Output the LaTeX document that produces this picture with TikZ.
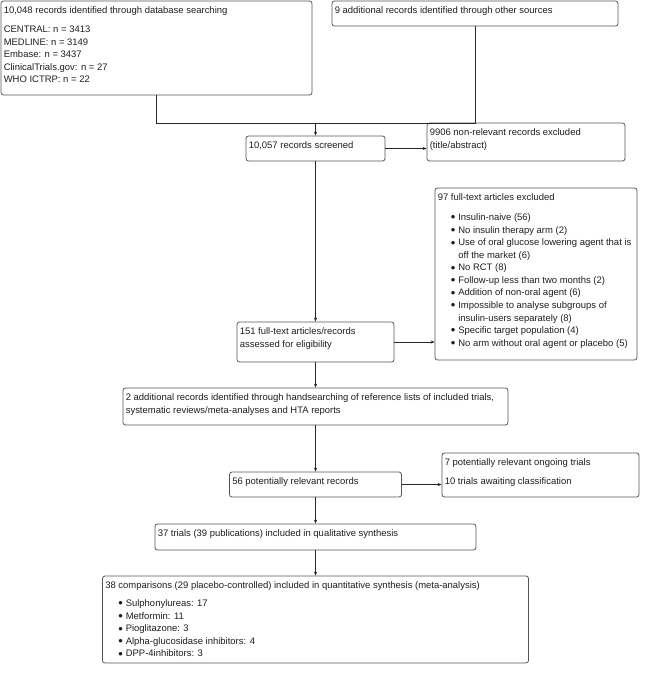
\documentclass[tikz,border=0pt]{standalone}
\usepackage{fontspec}
\setmainfont{Liberation Sans}
\usetikzlibrary{arrows.meta, calc}
\definecolor{boxgrey}{RGB}{85,85,85}
\definecolor{txtdark}{RGB}{30,30,30}
\tikzset{
  recbox/.style={rectangle, draw=boxgrey, rounded corners=2.5bp,
    line width=0.8bp, inner sep=0pt},
  rectext/.style={anchor=north west, inner sep=0pt, align=left,
    text=txtdark, font=\fontsize{9.5}{12.6}\selectfont},
  arrow/.style={-{Stealth[length=4bp,width=3.2bp]}, line width=0.8bp, color=black!85},
  line/.style={line width=0.8bp, color=black!85}
}
\newcommand{\bitem}{\hspace*{13bp}\makebox[7.5bp][l]{\fontsize{13}{12.6}\selectfont\raisebox{-1.3bp}{\textbullet}}}
\newcommand{\bcont}{\hspace*{20.5bp}}
\begin{document}
\begin{tikzpicture}[x=1bp, y=-1bp]
  \useasboundingbox (0,0) rectangle (646,673);

  % Identification
  \node[recbox, minimum width=311bp, minimum height=94bp] (db) at (156.5,48) {};
  \node[rectext] (dbtxt) at ($(db.north west)+(3,6)$)
    {10,048 records identified through database searching\\[6.4bp]
     CENTRAL: n = 3413\\ MEDLINE: n = 3149\\ Embase: n = 3437\\
     ClinicalTrials.gov: n = 27\\ WHO ICTRP: n = 22};

  \node[recbox, minimum width=286bp, minimum height=25bp] (other) at (475,13.5) {};
  \node[rectext] (othertxt) at ($(other.north west)+(3,6)$)
    {9 additional records identified through other sources};

  % Screening
  \node[recbox, minimum width=139bp, minimum height=25bp] (screened) at (315.5,148.5) {};
  \node[rectext] (screenedtxt) at ($(screened.north west)+(3,6)$) {10,057 records screened};

  \node[recbox, minimum width=198bp, minimum height=38bp] (excl) at (526,142) {};
  \node[rectext] (excltxt) at ($(excl.north west)+(3,6)$)
    {9906 non-relevant records excluded\\ (title/abstract)};

  % Eligibility
  \node[recbox, minimum width=157bp, minimum height=40bp] (elig) at (315.5,342) {};
  \node[rectext] (eligtxt) at ($(elig.north west)+(3,6)$)
    {151 full-text articles/records\\ assessed for eligibility};

  \node[recbox, minimum width=202bp, minimum height=172bp] (fulltxt) at (536,274) {};
  \node[rectext] (fulltxttxt) at ($(fulltxt.north west)+(3,6)$)
    {97 full-text articles excluded\\[7.4bp]
     \bitem Insulin-naive (56)\\
     \bitem No insulin therapy arm (2)\\
     \bitem Use of oral glucose lowering agent that is\\
     \bcont off the market (6)\\
     \bitem No RCT (8)\\
     \bitem Follow-up less than two months (2)\\
     \bitem Addition of non-oral agent (6)\\
     \bitem Impossible to analyse subgroups of\\
     \bcont insulin-users separately (8)\\
     \bitem Specific target population (4)\\
     \bitem No arm without oral agent or placebo (5)};

  \node[recbox, minimum width=385bp, minimum height=37bp] (hand) at (315.5,406.5) {};
  \node[rectext] (handtxt) at ($(hand.north west)+(3,6)$)
    {2 additional records identified through handsearching of reference lists of included trials,\\
     systematic reviews/meta-analyses and HTA reports};

  \node[recbox, minimum width=172bp, minimum height=25bp] (relev) at (315.5,484.5) {};
  \node[rectext] (relevtxt) at ($(relev.north west)+(3,6)$) {56 potentially relevant records};

  \node[recbox, minimum width=197bp, minimum height=44bp] (ongoing) at (540.5,475) {};
  \node[rectext] (ongoingtxt) at ($(ongoing.north west)+(3,6)$)
    {7 potentially relevant ongoing trials\\[6.4bp] 10 trials awaiting classification};

  % Included
  \node[recbox, minimum width=321bp, minimum height=26bp] (qual) at (315.5,537) {};
  \node[rectext] (qualtxt) at ($(qual.north west)+(3,6)$)
    {37 trials (39 publications) included in qualitative synthesis};

  \node[recbox, minimum width=426bp, minimum height=87bp] (quant) at (315.5,619.5) {};
  \node[rectext] (quanttxt) at ($(quant.north west)+(3,6)$)
    {38 comparisons (29 placebo-controlled) included in quantitative synthesis (meta-analysis)\\[5.4bp]
     \bitem Sulphonylureas: 17\\
     \bitem Metformin: 11\\
     \bitem Pioglitazone: 3\\
     \bitem Alpha-glucosidase inhibitors: 4\\
     \bitem DPP-4inhibitors: 3};

  % Connectors
  \coordinate (join) at (screened.north |- 0,123);
  \draw[line] (db.south) |- (other.south |- join) -- (other.south);
  \draw[arrow] (join) -- (screened.north);
  \draw[arrow] (screened.east) -- (screened.east -| excl.west);
  \draw[arrow] (screened.south) -- (elig.north);
  \draw[arrow] (elig.east) -- (elig.east -| fulltxt.west);
  \draw[arrow] (elig.south) -- (hand.north);
  \draw[arrow] (hand.south) -- (relev.north);
  \draw[arrow] (relev.east) -- (relev.east -| ongoing.west);
  \draw[arrow] (relev.south) -- (qual.north);
  \draw[arrow] (qual.south) -- (quant.north);
\end{tikzpicture}
\end{document}
